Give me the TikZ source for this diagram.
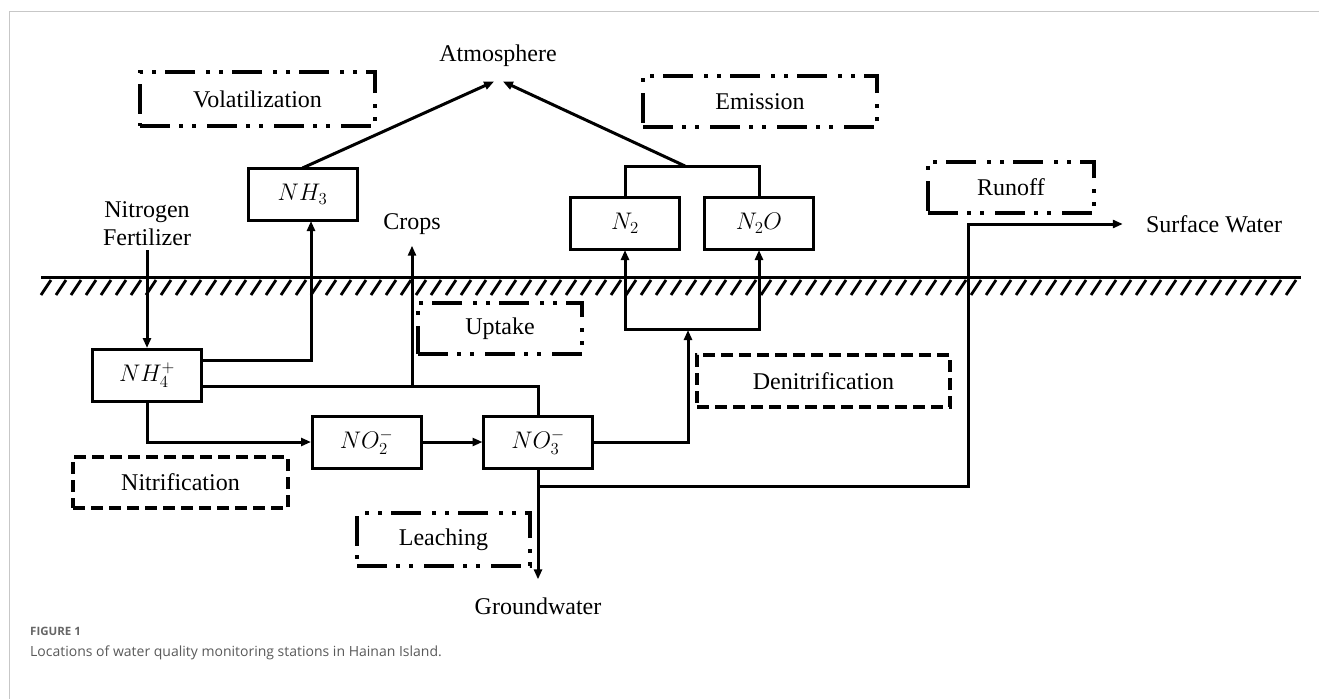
\RequirePackage{fix-cm}
\documentclass[tikz,border=0pt]{standalone}
\usepackage{fontspec}
\setmainfont{Liberation Serif}
\newfontfamily\captionfont{Open Sans}
\usetikzlibrary{positioning, arrows.meta, calc}

\begin{document}
\begin{tikzpicture}[
  x=1pt, y=-1pt,
  species/.style = {draw, line width=3pt, minimum width=109pt, minimum height=52pt,
    inner sep=0pt, outer sep=0pt, font=\fontsize{24}{28}\selectfont},
  plain_text/.style = {inner sep=0pt, font=\fontsize{24}{28}\selectfont},
  process/.style = {draw, line width=3.2pt, inner sep=0pt, font=\fontsize{24}{28}\selectfont},
  dashed_box/.style = {process, dash pattern=on 12pt off 6pt},
  dotted_box/.style = {process, dash pattern=on 30pt off 9pt on 4pt off 9pt on 4pt off 11pt},
  flow/.style = {line width=3pt, shorten >=1pt, -{Triangle[length=10pt, width=8pt]}},
  pipe/.style = {line width=3pt}
]
  % Keep the page the size of the figure
  \useasboundingbox (0,0) rectangle (1319,699);
  \path[draw=black!22, line width=1.2pt] (9.5,699) -- (9.5,11.5) -- (1319,11.5);

  % Place the nitrogen species
  \node[species] (nh_4) at (147,375) {$NH_4^+$};
  \node[species] (nh_3) at (302.5,194) {$NH_3$};
  \node[species] (no_2) at (366.5,442) {$NO_2^-$};
  \node[species] (no_3) [right=62.5pt of no_2] {$NO_3^-$};
  \node[species] (n_2) at (625,223) {$N_2$};
  \node[species] (n_2o) [right=25pt of n_2] {$N_2O$};

  % Place the free labels
  \node[plain_text] (atmosphere) at (498,56) {Atmosphere};
  \node[plain_text, align=center] (fertilizer) at (147,224) {Nitrogen\\Fertilizer};
  \node[plain_text] (crops) at (412,224) {Crops};
  \node[plain_text] (surface) at (1214,224) {Surface Water};
  \node[plain_text] (groundwater) at (538,606) {Groundwater};

  % Place the process boxes
  \node[dotted_box, minimum width=235pt, minimum height=54pt] (volatilization) at (257.5,99) {Volatilization};
  \node[dotted_box, minimum width=234pt, minimum height=51pt] (emission) at (760,101.5) {Emission};
  \node[dotted_box, minimum width=166pt, minimum height=51pt] (runoff) at (1011,187.5) {Runoff};
  \node[dotted_box, minimum width=164pt, minimum height=51pt] (uptake) at (500,328.5) {Uptake};
  \node[dashed_box, minimum width=253pt, minimum height=52pt] (denitrification) at (823.5,381) {Denitrification};
  \node[dashed_box, minimum width=215pt, minimum height=51pt] (nitrification) at (180.5,482.5) {Nitrification};
  \node[dotted_box, minimum width=173pt, minimum height=53pt] (leaching) at (443.5,539.5) {Leaching};

  % Branch points of the connectors
  \coordinate (crop_split) at (412,386);
  \coordinate (gas_join) at (688,329);
  \coordinate (emit_join) at (685,166);
  \coordinate (runoff_split) at (538,486);
  \coordinate (runoff_turn) at (968,224);

  % Draw the ground surface
  \path[draw, line width=3pt] (41,277) -- (1301,277);
  \foreach \hx in {41,56,...,1290}
    \path[draw, line width=2.8pt] (\hx,295) -- ++(10,-15);

  % Draw the flows
  \path[draw, flow] ($(fertilizer.south)+(0,4)$) -- (nh_4.north);
  \path[draw, flow] ($(nh_4.east)+(0,-15)$) -| ($(nh_3.south)+(8.5,0)$);
  \path[draw, pipe] ($(nh_4.east)+(0,11)$) -| (no_3.north);
  \path[draw, flow] (crop_split) -- ($(crops.south)+(0,10)$);
  \path[draw, flow] (nh_4.south) |- (no_2.west);
  \path[draw, flow] (no_2.east) -- (no_3.west);
  \path[draw, flow] (no_3.east) -| (gas_join);
  \path[draw, flow] (gas_join) -| (n_2.south);
  \path[draw, flow] (gas_join) -| (n_2o.south);
  \path[draw, pipe] (n_2.north) |- (emit_join) -| (n_2o.north);
  \path[draw, flow] (emit_join) -- ($(atmosphere.south)+(4,14)$);
  \path[draw, flow] (nh_3.north) -- ($(atmosphere.south)+(-3,14)$);
  \path[draw, flow] (no_3.south) -- ($(groundwater.north)+(0,-17)$);
  \path[draw, flow] (runoff_split) -| (runoff_turn) -- ($(surface.west)+(-22,0)$);

  % Caption
  \node[anchor=base west, inner sep=0pt, text=black!60,
    font=\captionfont\bfseries\fontsize{11.5}{14}\selectfont] (fig_num) at (30,635) {FIGURE 1};
  \node[anchor=base west, inner sep=0pt, text=black!65,
    font=\captionfont\fontsize{14}{17}\selectfont] (fig_caption) at (30,656)
    {Locations of water quality monitoring stations in Hainan Island.};
\end{tikzpicture}
\end{document}
